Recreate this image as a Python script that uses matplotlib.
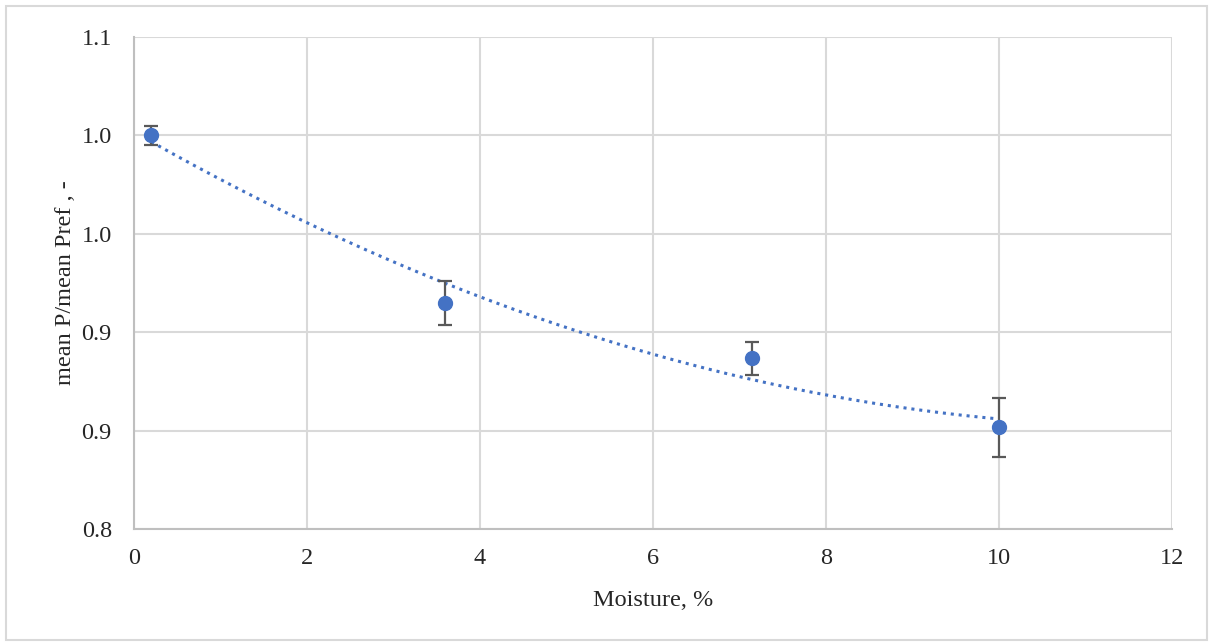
import matplotlib
matplotlib.use('Agg')
import matplotlib.pyplot as plt
from matplotlib.patches import Rectangle
import numpy as np

# data
moisture = [0.2, 3.6, 7.15, 10.0]
ratio = [1.040, 0.938, 0.904, 0.862]
ratio_err = [0.006, 0.0134, 0.0098, 0.018]
yticks = [0.80, 0.86, 0.92, 0.98, 1.04, 1.10]
xticks = [0, 2, 4, 6, 8, 10, 12]

plt.rcParams['font.family'] = ['Liberation Serif', 'DejaVu Serif']
fs = 17.5

fig = plt.figure(figsize=(12.13, 6.43), dpi=100)
fig.patches.append(Rectangle((0.005, 0.005), 0.99, 0.985, transform=fig.transFigure,
                             fill=False, edgecolor='#d9d9d9', linewidth=1.5))
ax = fig.add_axes([0.1105, 0.1773, 0.8557, 0.7652])

# polynomial (order 2) trendline like excel
coef = np.polyfit(moisture, ratio, 2)
xt = np.linspace(moisture[0], moisture[-1], 200)
ax.plot(xt, np.polyval(coef, xt), linestyle=(0, (1, 1.6)), color='#4472c4', linewidth=2.2, zorder=3)

ax.errorbar(moisture, ratio, yerr=ratio_err, fmt='o', color='#4472c4', markersize=10,
            ecolor='#595959', elinewidth=1.6, capsize=5, capthick=1.6, zorder=4)

ax.set_xlim(0, 12)
ax.set_ylim(0.8, 1.1)
ax.set_xticks(xticks)
ax.set_yticks(yticks)
ax.set_yticklabels(['%.1f' % v for v in yticks])
ax.grid(True, color='#d9d9d9', linewidth=1.5)
ax.set_axisbelow(True)
for s in ['top', 'right']:
    ax.spines[s].set_visible(False)
for s in ['left', 'bottom']:
    ax.spines[s].set_color('#bfbfbf')
    ax.spines[s].set_linewidth(1.5)
ax.tick_params(length=0, labelsize=fs, colors='#262626')
ax.tick_params(axis='y', pad=16)
ax.tick_params(axis='x', pad=14)
ax.set_xlabel('Moisture, %', fontsize=fs, color='#262626', labelpad=15)
ax.set_ylabel('mean P/mean Pref , -', fontsize=fs, color='#262626', labelpad=4)

fig.savefig('out.png', dpi=100)
